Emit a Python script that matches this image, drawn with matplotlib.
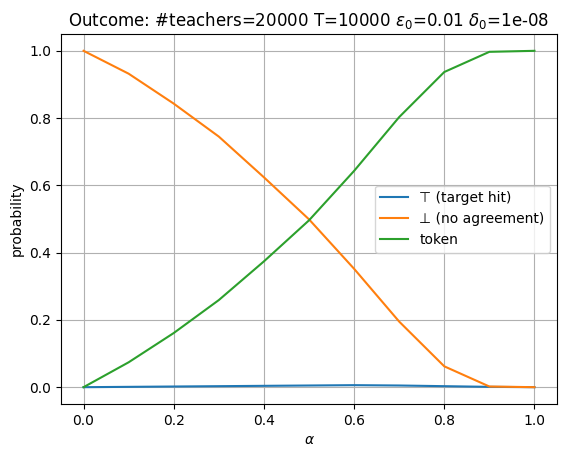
import matplotlib
matplotlib.use("Agg")
import matplotlib.pyplot as plt

alpha = [0.0, 0.1, 0.2, 0.3, 0.4, 0.5, 0.6, 0.7, 0.8, 0.9, 1.0]
target_hit = [0.0, 0.001, 0.002, 0.003, 0.004, 0.005, 0.006, 0.005, 0.003, 0.001, 0.0]
no_agreement = [1.0, 0.932, 0.843, 0.745, 0.624, 0.499, 0.352, 0.195, 0.062, 0.002, 0.0]
token = [0.0, 0.074, 0.161, 0.259, 0.374, 0.496, 0.643, 0.803, 0.937, 0.997, 1.0]

fig = plt.figure(figsize=(5.67, 4.57), dpi=100)
ax = fig.add_axes([61/567, 1-404/457, (557-61)/567, (404-34)/457])
ax.plot(alpha, target_hit, label="⊤ (target hit)")
ax.plot(alpha, no_agreement, label="⊥ (no agreement)")
ax.plot(alpha, token, label="token")
ax.set_xlabel(r"$\alpha$")
ax.set_ylabel("probability")
ax.set_title(r"Outcome: #teachers=20000 T=10000 $\varepsilon_0$=0.01 $\delta_0$=1e-08")
ax.grid(True)
ax.legend(loc="center right")
fig.savefig("out.png", dpi=100)
